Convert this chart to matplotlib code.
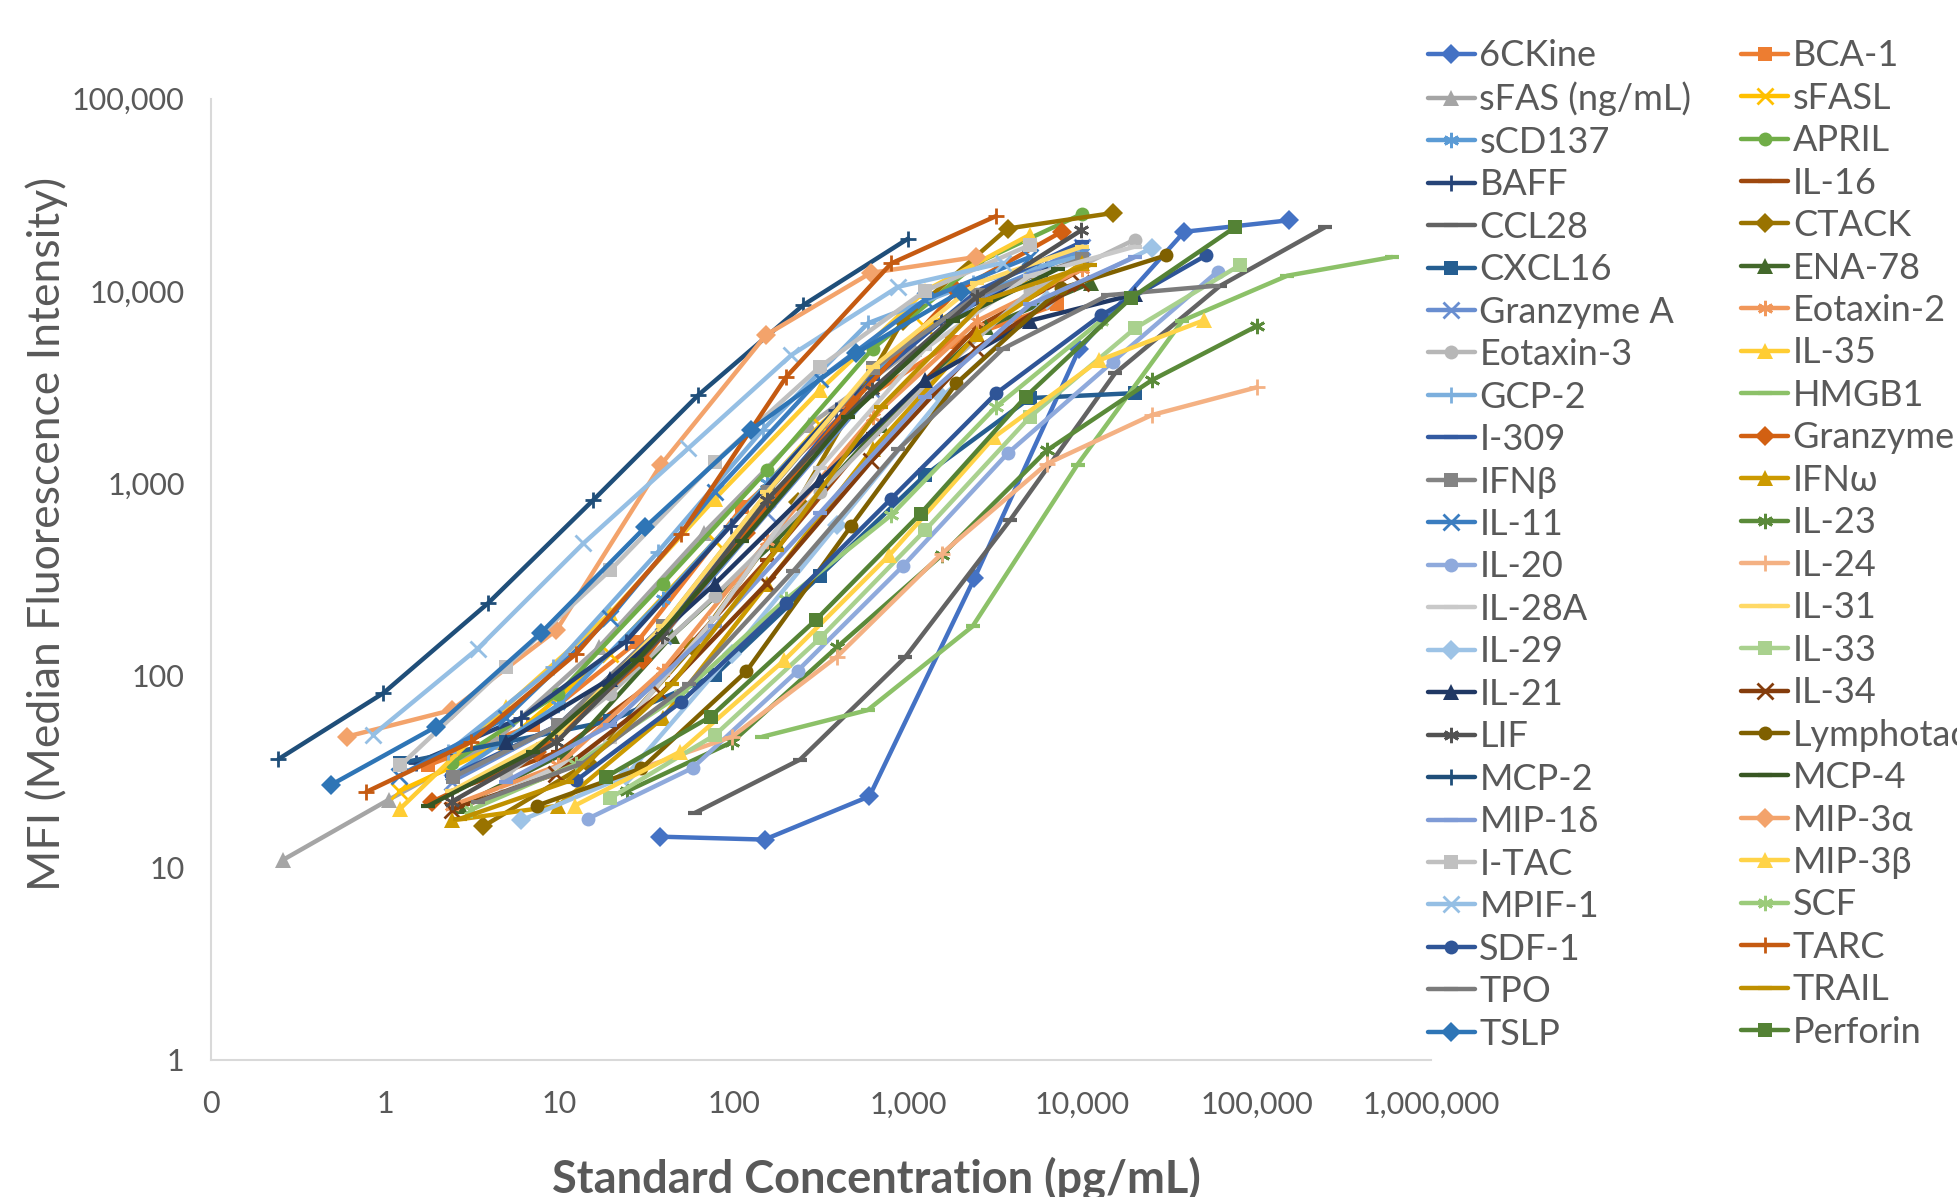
import matplotlib
matplotlib.use('Agg')
import matplotlib.pyplot as plt

plt.rcParams['font.family'] = ['Lato', 'DejaVu Sans']

# standard curves: concentration (pg/mL) and MFI
ckine6_conc = [37.5, 150, 600, 2400, 9600, 38400, 153600]
ckine6_mfi = [14.5, 14, 23.5, 320, 5000, 20300, 23300]
bca1_conc = [1.75, 7, 28, 112, 448, 1790, 7170]
bca1_mfi = [34, 55, 150, 750, 2400, 5400, 8500]
sfas_conc = [0.26, 1.05, 4.2, 16.8, 67, 270, 1075]
sfas_mfi = [11, 22.6, 45, 140, 550, 2000, 5000]
sfasl_conc = [1.2, 4.9, 19.5, 78, 312, 1250, 5000]
sfasl_mfi = [25, 45, 130, 500, 2000, 6500, 12000]
scd137_conc = [2.4, 9.8, 39, 156, 625, 2500, 10000]
scd137_mfi = [30, 70, 250, 1000, 3800, 9500, 16000]
april_conc = [2.4, 9.8, 39, 156, 625, 2500, 10000]
april_mfi = [35, 80, 300, 1170, 5000, 14000, 25200]
baff_conc = [1.5, 6, 24, 96, 384, 1536, 6144]
baff_mfi = [35, 60, 150, 600, 2400, 7000, 13000]
il16_conc = [2.4, 9.8, 39, 156, 625, 2500, 10000]
il16_mfi = [25, 40, 100, 400, 1800, 6500, 13000]
ccl28_conc = [60, 240, 960, 3840, 15360, 61440, 245760]
ccl28_mfi = [19.3, 36.5, 124, 641, 3720, 10600, 21400]
ctack_conc = [3.65, 14.6, 58, 233, 930, 3720, 14900]
ctack_mfi = [16.4, 35, 140, 800, 7000, 21100, 25400]
cxcl16_conc = [1.22, 4.9, 19.5, 78, 312, 1250, 5000, 20000]
cxcl16_mfi = [35, 45, 58, 100, 330, 1100, 2770, 2940]
ena78_conc = [2.7, 11, 44, 175, 700, 2800, 11200]
ena78_mfi = [21, 40, 160, 500, 2000, 6500, 11000]
granzyme_a_conc = [2.4, 9.8, 39, 156, 625, 2500, 10000]
granzyme_a_mfi = [28, 55, 160, 700, 3000, 9000, 17000]
eotaxin2_conc = [2.4, 9.8, 39, 156, 625, 2500, 10000]
eotaxin2_mfi = [21, 34, 106, 500, 2200, 7000, 13000]
eotaxin3_conc = [4.9, 19.5, 78, 312, 1250, 5000, 20000]
eotaxin3_mfi = [30, 80, 260, 900, 3200, 10000, 18500]
il35_conc = [1.22, 4.9, 19.5, 78, 312, 1250, 5000]
il35_mfi = [20.3, 68.6, 210, 830, 3050, 10000, 19600]
gcp2_conc = [2.3, 9.2, 36.8, 147, 590, 2360, 9440]
gcp2_mfi = [40, 110, 440, 1900, 6800, 11000, 15000]
hmgb1_conc = [146, 586, 2344, 9375, 37500, 150000, 600000]
hmgb1_mfi = [48, 66, 180, 1250, 7000, 12000, 15000]
i309_conc = [2.4, 9.8, 39, 156, 625, 2500, 10000]
i309_mfi = [30, 55, 180, 800, 3500, 10000, 18000]
granzyme_b_conc = [1.85, 7.4, 30, 118, 475, 1900, 7600]
granzyme_b_mfi = [22, 40, 120, 550, 2600, 10000, 20300]
ifnb_conc = [2.46, 9.8, 39, 157, 630, 2520, 10000]
ifnb_mfi = [29.6, 55, 180, 900, 3950, 9500, 14700]
ifnw_conc = [2.4, 9.8, 39, 156, 625, 2500, 10000]
ifnw_mfi = [17.6, 21, 60, 300, 1500, 6000, 14000]
il11_conc = [1.2, 4.9, 19.5, 78, 312, 1250, 5000]
il11_mfi = [30, 60, 200, 900, 3500, 9000, 15000]
il23_conc = [24.4, 97.7, 390, 1560, 6250, 25000, 100000]
il23_mfi = [25, 45, 140, 422, 1480, 3430, 6560]
il20_conc = [14.6, 58, 233, 932, 3730, 14900, 59600]
il20_mfi = [18, 33, 106, 370, 1430, 4270, 12600]
il24_conc = [24.4, 97.7, 390, 1560, 6250, 25000, 100000]
il24_mfi = [31, 48, 125, 430, 1260, 2260, 3150]
il28a_conc = [4.9, 19.5, 78, 312, 1250, 5000, 20000]
il28a_mfi = [25, 45, 200, 1200, 5000, 12000, 17000]
il31_conc = [2.4, 9.8, 39, 156, 625, 2500, 10000]
il31_mfi = [25, 50, 180, 900, 4000, 11000, 17000]
il29_conc = [6, 24, 97, 390, 1560, 6250, 25000]
il29_mfi = [17.6, 30, 130, 605, 2800, 9000, 16700]
il33_conc = [19.5, 78, 312, 1250, 5000, 20000, 80000]
il33_mfi = [23, 49, 156, 568, 2210, 6380, 13600]
il21_conc = [4.9, 19.5, 78, 312, 1250, 5000, 20000]
il21_mfi = [45, 96, 300, 1037, 3430, 7000, 9600]
il34_conc = [2.4, 9.6, 38, 154, 615, 2460, 9840]
il34_mfi = [20, 30.8, 80, 300, 1300, 5000, 11000]
lif_conc = [2.4, 9.6, 38.6, 154, 617, 2470, 9880]
lif_mfi = [22, 45, 160, 815, 3050, 9320, 20700]
lymphotactin_conc = [7.4, 29.5, 118, 472, 1890, 7550, 30200]
lymphotactin_mfi = [21, 32.8, 105, 600, 3300, 10300, 15300]
mcp2_conc = [0.244, 0.977, 3.9, 15.6, 62.5, 250, 1000]
mcp2_mfi = [36.7, 81, 238, 816, 2870, 8430, 18700]
mcp4_conc = [1.77, 7, 28, 112, 450, 1800, 7200]
mcp4_mfi = [21, 40, 120, 500, 2200, 7000, 13000]
mip1d_conc = [4.9, 19.5, 78, 312, 1250, 5000, 20000]
mip1d_mfi = [28, 55, 180, 700, 2800, 8500, 15000]
mip3a_conc = [0.6, 2.4, 9.6, 38, 153, 610, 2440]
mip3a_mfi = [48, 66, 172, 1240, 5900, 12400, 15000]
itac_conc = [1.22, 4.9, 19.5, 78, 312, 1250, 5000]
itac_mfi = [34, 111, 352, 1290, 4030, 10000, 17300]
mip3b_conc = [12.2, 49, 195, 780, 3125, 12500, 50000]
mip3b_mfi = [21, 40, 120, 422, 1740, 4360, 7040]
mpif1_conc = [0.85, 3.4, 13.7, 54.7, 214, 875, 3500]
mpif1_mfi = [49, 138, 486, 1515, 4640, 10500, 14000]
scf_conc = [3.1, 12.5, 50, 200, 800, 3200, 12800]
scf_mfi = [20, 34.7, 80, 250, 682, 2500, 7000]
sdf1_conc = [12.5, 50, 200, 800, 3200, 12800, 51200]
sdf1_mfi = [28.5, 73, 237, 830, 2930, 7480, 15300]
tarc_conc = [0.78, 3.1, 12.5, 50, 200, 800, 3200]
tarc_mfi = [24.8, 45, 130, 547, 3570, 13900, 24500]
tpo_conc = [3.4, 13.7, 55, 220, 880, 3500, 14000, 56000]
tpo_mfi = [22, 35, 90, 350, 1500, 5000, 9500, 10600]
trail_conc = [2.7, 11, 44, 176, 700, 2800, 11000]
trail_mfi = [18, 28, 90, 450, 2500, 9000, 13600]
tslp_conc = [0.49, 1.95, 7.8, 31, 125, 500, 2000]
tslp_mfi = [27, 54, 166, 590, 1890, 4730, 9900]
perforin_conc = [18.4, 73.6, 295, 1180, 4720, 18900, 75500]
perforin_mfi = [29.6, 61, 194, 695, 2810, 9140, 21500]

x_ticks = [0.1, 1, 10, 100, 1000, 10000, 100000, 1000000]
x_tick_labels = ['0', '1', '10', '100', '1,000', '10,000', '100,000', '1,000,000']
y_ticks = [1, 10, 100, 1000, 10000, 100000]
y_tick_labels = ['1', '10', '100', '1,000', '10,000', '100,000']

series = [
    ('6CKine', ckine6_conc, ckine6_mfi),
    ('BCA-1', bca1_conc, bca1_mfi),
    ('sFAS (ng/mL)', sfas_conc, sfas_mfi),
    ('sFASL', sfasl_conc, sfasl_mfi),
    ('sCD137', scd137_conc, scd137_mfi),
    ('APRIL', april_conc, april_mfi),
    ('BAFF', baff_conc, baff_mfi),
    ('IL-16', il16_conc, il16_mfi),
    ('CCL28', ccl28_conc, ccl28_mfi),
    ('CTACK', ctack_conc, ctack_mfi),
    ('CXCL16', cxcl16_conc, cxcl16_mfi),
    ('ENA-78', ena78_conc, ena78_mfi),
    ('Granzyme A', granzyme_a_conc, granzyme_a_mfi),
    ('Eotaxin-2', eotaxin2_conc, eotaxin2_mfi),
    ('Eotaxin-3', eotaxin3_conc, eotaxin3_mfi),
    ('IL-35', il35_conc, il35_mfi),
    ('GCP-2', gcp2_conc, gcp2_mfi),
    ('HMGB1', hmgb1_conc, hmgb1_mfi),
    ('I-309', i309_conc, i309_mfi),
    ('Granzyme B', granzyme_b_conc, granzyme_b_mfi),
    ('IFNβ', ifnb_conc, ifnb_mfi),
    ('IFNω', ifnw_conc, ifnw_mfi),
    ('IL-11', il11_conc, il11_mfi),
    ('IL-23', il23_conc, il23_mfi),
    ('IL-20', il20_conc, il20_mfi),
    ('IL-24', il24_conc, il24_mfi),
    ('IL-28A', il28a_conc, il28a_mfi),
    ('IL-31', il31_conc, il31_mfi),
    ('IL-29', il29_conc, il29_mfi),
    ('IL-33', il33_conc, il33_mfi),
    ('IL-21', il21_conc, il21_mfi),
    ('IL-34', il34_conc, il34_mfi),
    ('LIF', lif_conc, lif_mfi),
    ('Lymphotactin', lymphotactin_conc, lymphotactin_mfi),
    ('MCP-2', mcp2_conc, mcp2_mfi),
    ('MCP-4', mcp4_conc, mcp4_mfi),
    ('MIP-1δ', mip1d_conc, mip1d_mfi),
    ('MIP-3α', mip3a_conc, mip3a_mfi),
    ('I-TAC', itac_conc, itac_mfi),
    ('MIP-3β', mip3b_conc, mip3b_mfi),
    ('MPIF-1', mpif1_conc, mpif1_mfi),
    ('SCF', scf_conc, scf_mfi),
    ('SDF-1', sdf1_conc, sdf1_mfi),
    ('TARC', tarc_conc, tarc_mfi),
    ('TPO', tpo_conc, tpo_mfi),
    ('TRAIL', trail_conc, trail_mfi),
    ('TSLP', tslp_conc, tslp_mfi),
    ('Perforin', perforin_conc, perforin_mfi),
]

# Excel-like colours and markers, same order as the series
colors = [
    '#4472C4', '#ED7D31', '#A5A5A5', '#FFC000', '#5B9BD5', '#70AD47',
    '#264478', '#9E480E', '#636363', '#997300', '#255E91', '#43682B',
    '#698ED0', '#F1975A', '#B7B7B7', '#FFCD33', '#7CAFDD', '#8CC168',
    '#335AA1', '#D26012', '#848484', '#CC9A00', '#3A7DC0', '#5A8A39',
    '#8FAADC', '#F4B183', '#C9C9C9', '#FFD966', '#9DC3E6', '#A9D18E',
    '#203864', '#843C0C', '#525252', '#7F6000', '#1F4E79', '#385723',
    '#7F9BD6', '#F3A36B', '#C0C0C0', '#FFD347', '#95BFE4', '#9BCB7A',
    '#2F5597', '#C55A11', '#7B7B7B', '#BF9000', '#2E75B6', '#548235',
]
STAR = (6, 2, 0)
markers = [
    'D', 's', '^', 'x', STAR, 'o', '+', '_', '_',
    'D', 's', '^', 'x', STAR, 'o', '^', '+', '_',
    '_', 'D', 's', '^', 'x', STAR, 'o', '+', '_',
    '_', 'D', 's', '^', 'x', STAR, 'o', '+', '_',
    '_', 'D', 's', '^', 'x', STAR, 'o', '+', '_',
    '_', 'D', 's',
]


def marker_style(m):
    if m in ('x', '+') or m == STAR:
        return dict(markersize=11, markeredgewidth=2.0)
    if m == '_':
        return dict(markersize=10, markeredgewidth=3.0)
    if m == '^':
        return dict(markersize=11, markeredgewidth=0)
    return dict(markersize=10, markeredgewidth=0)


fig = plt.figure(figsize=(19.57, 11.97), dpi=100)
ax = fig.add_axes([0.1078, 0.1145, 0.6234, 0.8031])

handles = []
for (name, x, y), c, m in zip(series, colors, markers):
    line, = ax.plot(x, y, color=c, marker=m, linewidth=3.2, label=name,
                    solid_capstyle='round', **marker_style(m))
    handles.append(line)

ax.set_xscale('log')
ax.set_yscale('log')
ax.set_xlim(0.1, 1e6)
ax.set_ylim(1, 1e5)
ax.set_xticks(x_ticks)
ax.set_xticklabels(x_tick_labels)
ax.set_yticks(y_ticks)
ax.set_yticklabels(y_tick_labels)
ax.minorticks_off()
ax.tick_params(length=0, labelsize=22, labelcolor='#595959')
ax.tick_params(axis='x', pad=22)
ax.tick_params(axis='y', pad=19)
for side in ('top', 'right'):
    ax.spines[side].set_visible(False)
for side in ('left', 'bottom'):
    ax.spines[side].set_color('#D9D9D9')
    ax.spines[side].set_linewidth(1.5)

fig.text(0.024, 0.554, 'MFI (Median Fluorescence Intensity)', rotation=90,
         ha='center', va='center', fontsize=32, color='#595959')
fig.text(0.448, 0.004, 'Standard Concentration (pg/mL)', ha='center',
         va='baseline', fontsize=32.5, fontweight='bold', color='#595959')

# two single-column legends so the second one runs off the right edge
labels = [s[0] for s in series]
leg_kw = dict(loc='upper left', frameon=False, borderpad=0, borderaxespad=0,
              fontsize=26, labelcolor='#595959', handlelength=1.3,
              handletextpad=0.13, labelspacing=0.262)
leg1 = fig.legend(handles[0::2], labels[0::2], bbox_to_anchor=(0.7295, 0.9672), **leg_kw)
leg2 = fig.legend(handles[1::2], labels[1::2], bbox_to_anchor=(0.8897, 0.9672), **leg_kw)

fig.savefig('out.png', dpi=100)
